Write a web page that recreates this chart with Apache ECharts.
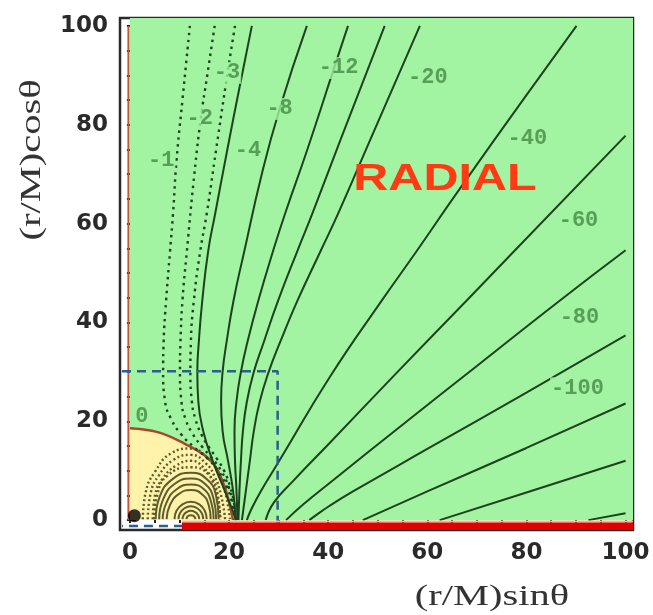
<!DOCTYPE html>
<html>
<head>
<meta charset="utf-8">
<script src="https://cdn.jsdelivr.net/npm/echarts@6/dist/echarts.min.js"></script>
<style>html,body{margin:0;padding:0;background:#fff}#c{width:653px;height:615px}</style>
</head>
<body>
<div id="c"></div>
<script>
// ---- axis ticks ----
const tickMajor = [0, 20, 40, 60, 80, 100];
const tickMinor = [0, 5, 10, 15, 20, 25, 30, 35, 40, 45, 50, 55, 60, 65, 70, 75, 80, 85, 90, 95, 100];
const xRange = [-2, 101.5];
const yRange = [-2, 101.6];

// ---- regions ----
const greenRegion = [[0, 0], [101.5, 101.6]];
const contourZero = [[0, 18.6], [5.6, 17.8], [11, 15.5], [15.1, 13.1], [17.1, 11.1], [18.75, 7.7], [19.8, 4.4], [20.8, 0]];

// ---- contour lines (dotted) ----
const lineM1 = [[12.1,100],[10.6,85],[9.4,72.7],[8.7,62],[8.1,54.5],[7.3,44.4],[6.8,36],[6.7,30],[7.1,24],[8.3,20.5],[10.3,17.4],[12.9,14.8],[15.6,12.5],[17.8,10],[19.5,6.8],[20.6,3.5],[21.2,0]];
const lineM2 = [[17.1,100],[15.6,90],[14.3,81.2],[13,70],[11.5,54.5],[10.6,44.4],[10.2,36],[10.1,30],[10.4,24],[11.2,20.5],[12.7,17.4],[14.6,14.8],[16.6,12.5],[18.4,10],[19.9,6.8],[20.8,3.5],[21.3,0]];
const lineM3 = [[21.2,100],[19.7,90.5],[17.4,75],[15.5,62],[14.2,54.5],[12.9,44.4],[12.3,36],[12.2,30],[12.5,24],[13.2,20.5],[14.4,17.4],[15.9,14.8],[17.5,12.5],[19,10],[20.2,6.8],[21,3.5],[21.4,0]];
// ---- contour lines (solid) ----
const lineM4 = [[24.6,100],[22.2,88],[19.6,74.7],[17.2,62],[15.8,54.5],[14.6,44.4],[13.9,36],[13.6,30],[13.8,24],[14.8,18],[16.7,12],[19.1,6],[20.7,2],[21.4,0]];
const lineM8 = [[35.7,100],[30.2,83.2],[26.6,70],[23.1,54.5],[20.9,44.4],[19.5,36],[18.7,30],[18.4,24],[18.7,18],[19.8,12],[20.8,6],[21.4,0]];
const lineM12 = [[44,100],[41.2,91.5],[35.8,75],[31.3,62],[28.9,54.5],[25.9,44.4],[23.7,36],[22.4,30],[21.5,24],[21.1,18],[21.2,12],[21.5,6],[21.7,0]];
const lineM16 = [[51.4,100],[42.5,77],[36.8,62],[33.8,54.5],[29.9,44.4],[27,36],[25,30],[23.6,24],[22.8,18],[22.4,12],[22.1,6],[21.9,0]];
const lineM20 = [[58.5,100],[48.5,77],[42,62],[38.5,54.5],[33.8,44.4],[30.3,36],[28,30],[26.2,24],[25,18],[24.2,12],[23.4,6],[22.6,0]];
const lineM40 = [[90.1,100],[80,86],[65.9,66.1],[57.9,54.5],[50.8,44.4],[40.3,28.9],[30.2,12.1],[26.5,6],[24.4,2],[23.6,0]];
const lineM60 = [[100,77.8],[77.6,54.5],[67.9,44.4],[54,30],[40.3,15.6],[33,8],[29,3.5],[27.4,0]];
const lineM80 = [[100,54.6],[86.7,44.4],[70,31.2],[55,19.3],[40.3,7.5],[35,3.2],[31.5,0]];
const lineM100 = [[100,37.4],[80,25.8],[60,14.4],[45,5.8],[40.3,2.9],[37,0.6],[36.2,0]];
const lineM120 = [[100,23.6],[80,14.6],[60,5.8],[47,0]];
const lineM140 = [[100,12],[80,5.6],[62.5,0]];
const lineM160 = [[100,1.4],[92.5,0]];

const dottedLines = [lineM1, lineM2, lineM3];
const solidLines = [lineM4, lineM8, lineM12, lineM16, lineM20, lineM40, lineM60, lineM80, lineM100, lineM120, lineM140, lineM160];

// ---- rings inside the yellow region ----
const ringD1 = [[2.6,0.2],[3.2,5.7],[5.0,9.7],[8.3,13.5],[12.3,14.5],[15.7,12.5],[17.7,9.7],[19.2,5.7],[20.2,0.2]];
const ringD2 = [[3.6,0.2],[4.2,5.5],[5.8,9.0],[8.8,12.2],[12.3,13.2],[15.3,11.5],[17.1,8.8],[18.4,5.0],[19.2,0.2]];
const ringD3 = [[4.6,0.2],[5.1,5.2],[6.6,8.4],[9.3,11.0],[12.3,12.0],[15.0,10.5],[16.6,8.0],[17.6,4.6],[18.3,0.2]];
const ringD4 = [[4.9,0.2],[5.5,5.0],[7.6,9.0],[12.3,10.7],[15.9,9.2],[17.7,5.2],[18.2,0.2]];
const ringS1 = [[5.2,0.2],[6.0,4.7],[8.6,8.3],[12.3,9.6],[15.6,8.2],[17.4,4.8],[17.9,0.2]];
const ringS2 = [[5.9,0.2],[6.7,4.2],[9.0,7.3],[12.3,8.4],[15.3,7.2],[16.9,4.2],[17.4,0.2]];
const ringS3 = [[6.6,0.2],[7.4,3.6],[9.5,6.3],[12.3,7.2],[15.0,6.2],[16.4,3.6],[16.9,0.2]];
const ringS4 = [[7.4,0.2],[8.1,3.1],[9.9,5.3],[12.3,6.1],[14.6,5.2],[15.9,3.0],[16.3,0.2]];
const ringS5 = [[9.0,0.2],[9.4,1.9],[10.6,3.2],[12.3,3.7],[14.0,3.2],[15.1,1.9],[15.5,0.2]];
const ringS6 = [[9.8,0.2],[10.1,1.4],[11.0,2.4],[12.3,2.8],[13.6,2.4],[14.5,1.4],[14.8,0.2]];
const ringS7 = [[10.6,0.2],[10.8,0.95],[11.4,1.6],[12.3,1.9],[13.2,1.6],[13.8,0.95],[14.0,0.2]];
const ringS8 = [[11.4,0.2],[11.5,0.55],[11.85,0.9],[12.3,1.0],[12.75,0.9],[13.1,0.55],[13.2,0.2]];
const dottedRings = [ringD1, ringD2, ringD3, ringD4];
const solidRings = [ringS1, ringS2, ringS3, ringS4, ringS5, ringS6, ringS7, ringS8];

// ---- other marks ----
const dashedBox = [[-1.6,30.1],[29.8,30.1],[29.8,-1.2],[-1.6,-1.2]];
const redBand = [[10.5,-1.25],[101.5,-1.25]];
const tanEdge = [[10.5,-0.3],[101.5,-0.3]];
const leftRedLine = [[-0.3,0],[-0.3,100]];
const blackDot = [[0.9,0.9]];

// ---- contour labels ----
const contourLabels = [
  [6.3,72.7,'-1'],[14.1,81.2,'-2'],[19.6,90.5,'-3'],[23.8,74.7,'-4'],[30.2,83.2,'-8'],
  [42.1,91.5,'-12'],[60.1,89.5,'-20'],[80.2,77.2,'-40'],[90.5,60.6,'-60'],
  [90.7,41,'-80'],[90.3,26.7,'-100'],[2.4,21,'0']
];

// ---- colours ----
const GREEN = '#a2f3a2';
const YELLOW = '#fff2ab';
const LINE = '#1d421d';
const OLIVE = '#5e5c2c';

const chart = echarts.init(document.getElementById('c'), null, {renderer: 'canvas'});

function tickAxis(pos, vals, len, showLabel, isX) {
  const r = isX ? xRange : yRange;
  return {
    type: 'value', min: r[0], max: r[1], position: pos,
    axisLine: {show: false}, splitLine: {show: false},
    axisTick: {show: true, inside: true, length: len, customValues: vals, lineStyle: {color: '#222', width: 2}},
    axisLabel: showLabel ? {show: true, customValues: tickMajor, margin: 12, fontSize: 23, fontFamily: 'DejaVu Sans', fontWeight: 'bold', color: '#2a2a2a'} : {show: false}
  };
}

const series = [];
series.push({
  type: 'line', data: [], z: 0, silent: true,
  markArea: {silent: true, itemStyle: {color: GREEN, opacity: 1}, data: [[{coord: greenRegion[0]}, {coord: greenRegion[1]}]]}
});
series.push({
  type: 'line', data: contourZero, smooth: 0.4, showSymbol: false, z: 2, silent: true,
  lineStyle: {color: '#a8462a', width: 2.5}, areaStyle: {color: YELLOW, opacity: 1}
});
dottedRings.forEach(r => series.push({type: 'line', data: r, smooth: 0.5, showSymbol: false, z: 3, silent: true,
  lineStyle: {color: OLIVE, width: 2.4, type: [2, 2.5]}}));
solidRings.forEach(r => series.push({type: 'line', data: r, smooth: 0.5, showSymbol: false, z: 3, silent: true,
  lineStyle: {color: OLIVE, width: 2}}));
dottedLines.forEach(l => series.push({type: 'line', data: l, smooth: 0.5, showSymbol: false, z: 4, silent: true,
  lineStyle: {color: LINE, width: 2.4, type: [2.5, 4.5]}}));
solidLines.forEach(l => series.push({type: 'line', data: l, smooth: 0.5, showSymbol: false, z: 4, silent: true,
  lineStyle: {color: LINE, width: 2}}));
series.push({type: 'line', data: leftRedLine, showSymbol: false, z: 5, silent: true, lineStyle: {color: '#c4553a', width: 2}});
series.push({type: 'line', data: dashedBox, showSymbol: false, z: 5, silent: true, lineStyle: {color: '#2b5f8c', width: 2.5, type: [9, 6]}});
series.push({type: 'line', data: tanEdge, showSymbol: false, z: 6, silent: true, lineStyle: {color: '#e6c27a', width: 2}});
series.push({type: 'line', data: redBand, showSymbol: false, z: 6, silent: true, lineStyle: {color: '#e00000', width: 7.5}});
series.push({type: 'scatter', data: blackDot, symbolSize: 13, z: 7, silent: true, itemStyle: {color: '#000'}});
series.push({
  type: 'scatter', data: contourLabels, symbolSize: 1, z: 8, silent: true,
  itemStyle: {color: 'rgba(0,0,0,0)'},
  label: {show: true, position: 'inside', formatter: p => p.data[2], fontFamily: 'Liberation Mono', fontSize: 22, fontWeight: 'bold',
    color: '#438a43', backgroundColor: GREEN, padding: [0, 1]}
});

chart.setOption({
  animation: false,
  grid: {left: 120, right: 20, top: 18, bottom: 85, show: true, borderColor: '#2a2a2a', borderWidth: 2.5, backgroundColor: '#fff'},
  xAxis: [
    tickAxis('bottom', tickMajor, 6, true, true),
    tickAxis('bottom', tickMinor, 3, false, true),
    tickAxis('top', tickMinor, 3, false, true)
  ],
  yAxis: [
    tickAxis('left', tickMajor, 6, true, false),
    tickAxis('left', tickMinor, 3, false, false),
    tickAxis('right', tickMinor, 3, false, false)
  ],
  series: series,
  graphic: [
    {type: 'text', x: 492, y: 597, scaleX: 1.35, style: {text: '(r/M)sin\u03b8', font: '30px "Liberation Serif"', fill: '#333', textAlign: 'center', textVerticalAlign: 'middle'}},
    {type: 'text', x: 32, y: 160, rotation: Math.PI / 2, scaleX: 1.35, style: {text: '(r/M)cos\u03b8', font: '30px "Liberation Serif"', fill: '#333', textAlign: 'center', textVerticalAlign: 'middle'}},
    {type: 'text', x: 445, y: 180, scaleX: 1.35, z: 100, style: {text: 'RADIAL', font: 'bold 36px "Liberation Sans"', fill: '#ff3b14', textAlign: 'center', textVerticalAlign: 'middle'}}
  ]
});
</script>
</body>
</html>
